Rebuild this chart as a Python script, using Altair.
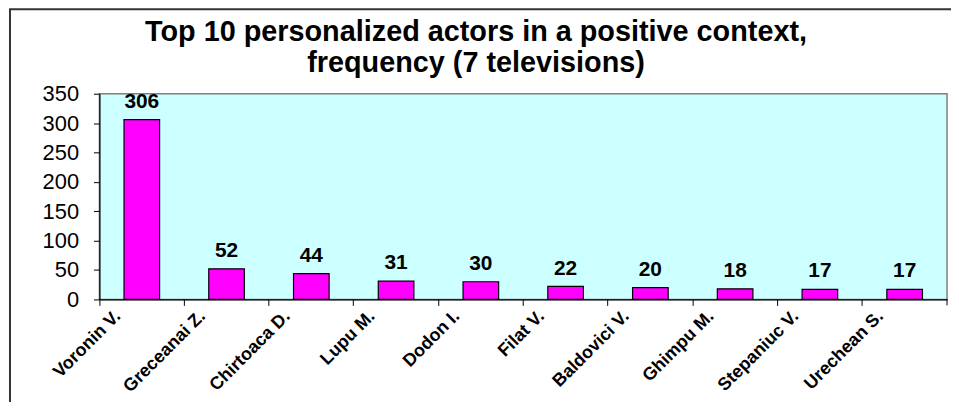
import altair as alt
import pandas as pd

actors = ["Voronin V.", "Greceanai Z.", "Chirtoaca D.", "Lupu M.", "Dodon I.",
          "Filat V.", "Baldovici V.", "Ghimpu M.", "Stepaniuc V.", "Urechean S."]
values = [306, 52, 44, 31, 30, 22, 20, 18, 17, 17]
y_ticks = [0, 50, 100, 150, 200, 250, 300, 350]
title_lines = ["Top 10 personalized actors in a positive context,",
               "frequency (7 televisions)"]

df = pd.DataFrame({"actor": actors, "value": values})
FONT = "Liberation Sans"

x = alt.X("actor:N", sort=actors,
          scale=alt.Scale(paddingInner=0, paddingOuter=0),
          axis=alt.Axis(title=None, labelAngle=-45, bandPosition=0, labelOffset=-24,
                        tickSize=6, labelPadding=8, domainColor="black", tickColor="black",
                        labelFont=FONT, labelFontWeight="bold", labelFontSize=18,
                        labelColor="black", labelAlign="right", labelBaseline="middle",
                        labelOverlap=False, domainWidth=1.2))
y = alt.Y("value:Q", scale=alt.Scale(domain=[0, 350], nice=False),
          axis=alt.Axis(title=None, values=y_ticks, grid=False, tickSize=6, labelPadding=15,
                        labelFont=FONT, labelFontSize=22, labelColor="black",
                        labelOverlap=False, labelFlush=False,
                        domainColor="black", tickColor="black", domainWidth=1.2))

base = alt.Chart(df).encode(x=x, y=y)
bars = base.mark_bar(color="#FF00FF", stroke="black", strokeWidth=1.2,
                     width=alt.RelativeBandSize(0.42))
labels = base.mark_text(dy=-12, baseline="alphabetic", fontWeight="bold", fontSize=21,
                        font=FONT, color="black").encode(text="value:Q")

deco = alt.Chart(pd.DataFrame({"a": [0]}))
title1 = deco.mark_text(text=title_lines[0], font=FONT, fontWeight="bold", fontSize=29,
                        align="center", baseline="alphabetic", color="black").encode(
    x=alt.value(379), y=alt.value(-53))
title2 = deco.mark_text(text=title_lines[1], font=FONT, fontWeight="bold", fontSize=29,
                        align="center", baseline="alphabetic", color="black").encode(
    x=alt.value(379), y=alt.value(-22))
end_tick = deco.mark_rule(color="black", strokeWidth=1).encode(
    x=alt.value(853), y=alt.value(207), y2=alt.value(213))
frame_left = deco.mark_rule(color="#333333", strokeWidth=2).encode(
    x=alt.value(-90), y=alt.value(-85), y2=alt.value(330))
frame_top = deco.mark_rule(color="#333333", strokeWidth=2).encode(
    x=alt.value(-91), x2=alt.value(900), y=alt.value(-85))

chart = alt.layer(bars, labels, end_tick, frame_left, frame_top, title1, title2).properties(
    width=853, height=207,
    autosize=alt.AutoSizeParams(type="none"),
    padding={"left": 92, "top": 85, "right": 4, "bottom": 102},
).configure_view(fill="#CCFFFF", stroke="#808080", strokeWidth=1.5)

chart.save("out.html", embed_options={"renderer": "svg", "actions": False})
